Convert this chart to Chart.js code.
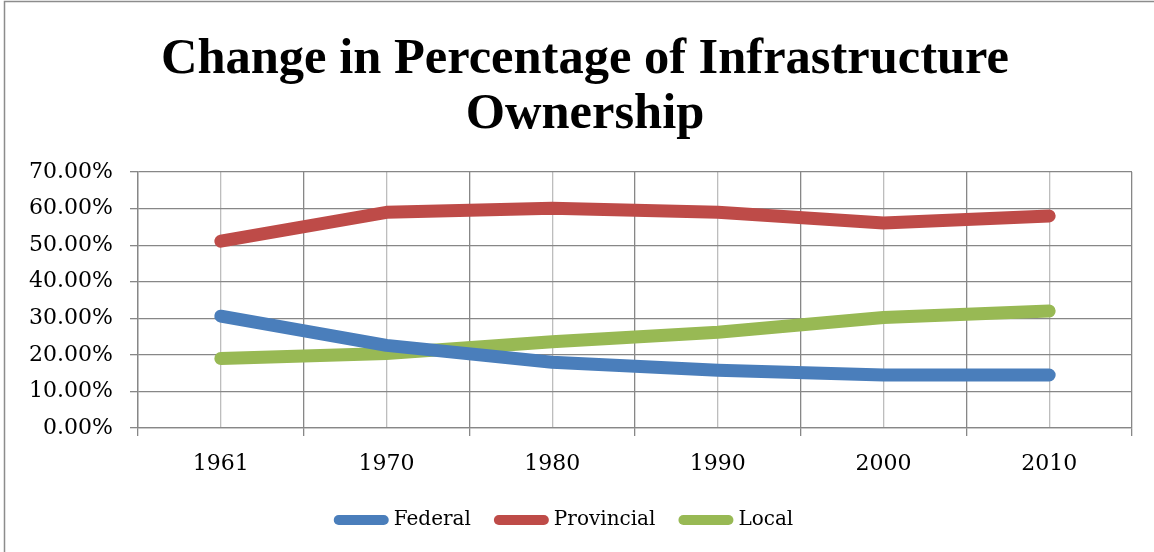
<!DOCTYPE html>
<html>
<head>
<meta charset="utf-8">
<script src="https://cdn.jsdelivr.net/npm/chart.js@4/dist/chart.umd.min.js"></script>
<style>
  html, body { margin: 0; padding: 0; background: #fff; }
  #wrap { width: 1154px; height: 552px; position: relative; }
</style>
</head>
<body>
<div id="wrap"><canvas id="grafica" width="1154" height="552"></canvas></div>
<script>
const years = ['1961', '1970', '1980', '1990', '2000', '2010'];
const federal = [30.6, 22.6, 18.0, 15.8, 14.5, 14.5];
const provincial = [51.1, 59.0, 60.1, 59.0, 56.1, 58.0];
const local = [19.0, 20.4, 23.6, 26.2, 30.2, 32.0];

document.addEventListener('DOMContentLoaded', function () {
    const serif = "'DejaVu Serif', 'Liberation Serif', serif";
    const titleFont = "'Liberation Serif', 'DejaVu Serif', serif";

    // marco gris del gráfico
    const frame = {
        id: 'frame',
        beforeDraw(chart) {
            const c = chart.ctx;
            c.save();
            c.fillStyle = '#fff';
            c.fillRect(0, 0, chart.width, chart.height);
            c.strokeStyle = '#8c8c8c';
            c.lineWidth = 1.5;
            c.strokeRect(4.5, 1.5, 2000, 2000);
            c.restore();
        }
    };

    // el título está un poco a la derecha del centro del área
    const shiftTitle = {
        id: 'shiftTitle',
        afterLayout(chart) {
            if (chart.titleBlock) {
                chart.titleBlock.left += 38;
                chart.titleBlock.right += 0;
            }
        }
    };

    function serie(label, data, color) {
        return {
            label: label,
            data: data,
            borderColor: color,
            backgroundColor: color,
            borderWidth: 13,
            borderCapStyle: 'round',
            borderJoinStyle: 'round',
            pointRadius: 0,
            tension: 0,
            xAxisID: 'x'
        };
    }

    const ctx = document.getElementById('grafica').getContext('2d');
    new Chart(ctx, {
        type: 'line',
        data: {
            labels: years,
            datasets: [
                serie('Federal', federal, '#4A7EBB'),
                serie('Provincial', provincial, '#BE4B48'),
                serie('Local', local, '#98B954')
            ]
        },
        plugins: [frame, shiftTitle],
        options: {
            responsive: false,
            animation: false,
            layout: { padding: { left: 0, right: 22, top: 0, bottom: 12 } },
            plugins: {
                title: {
                    display: true,
                    text: ['Change in Percentage of Infrastructure', 'Ownership'],
                    color: '#000',
                    font: { family: titleFont, size: 50.5, weight: 'bold', lineHeight: 1.1 },
                    padding: { top: 32, bottom: 29 }
                },
                legend: {
                    position: 'bottom',
                    labels: {
                        color: '#000',
                        font: { family: serif, size: 20 },
                        usePointStyle: true,
                        pointStyle: 'line',
                        pointStyleWidth: 45,
                        padding: 28,
                        generateLabels(chart) {
                            return chart.data.datasets.map((ds, i) => ({
                                text: ds.label,
                                fillStyle: ds.borderColor,
                                strokeStyle: ds.borderColor,
                                lineWidth: 10,
                                lineCap: 'round',
                                pointStyle: 'line',
                                fontColor: '#000',
                                hidden: false,
                                datasetIndex: i
                            }));
                        }
                    }
                },
                tooltip: { enabled: false }
            },
            scales: {
                x: {
                    type: 'category',
                    offset: true,
                    grid: {
                        offset: true,
                        color: '#878787',
                        tickColor: '#878787',
                        tickLength: 8,
                        lineWidth: 1.3
                    },
                    border: { color: '#878787', width: 1.3 },
                    ticks: {
                        color: '#000',
                        font: { family: serif, size: 22 },
                        padding: 15,
                        maxRotation: 0
                    },
                    afterFit(axis) { axis.height = 54; }
                },
                x2: {
                    type: 'category',
                    labels: years,
                    offset: true,
                    position: 'bottom',
                    grid: {
                        offset: false,
                        color: '#bdbdbd',
                        drawTicks: false,
                        lineWidth: 1.3
                    },
                    border: { display: false },
                    ticks: { display: false },
                    afterFit(axis) { axis.height = 0; }
                },
                y: {
                    min: 0,
                    max: 70,
                    ticks: {
                        stepSize: 10,
                        color: '#000',
                        font: { family: serif, size: 22 },
                        padding: 17,
                        callback: v => v.toFixed(2) + '%'
                    },
                    grid: {
                        color: '#878787',
                        tickColor: '#878787',
                        tickLength: 8,
                        lineWidth: 1.3
                    },
                    border: { color: '#878787', width: 1.3 },
                    afterFit(axis) { axis.width = 138; }
                }
            }
        }
    });
});
</script>
</body>
</html>
